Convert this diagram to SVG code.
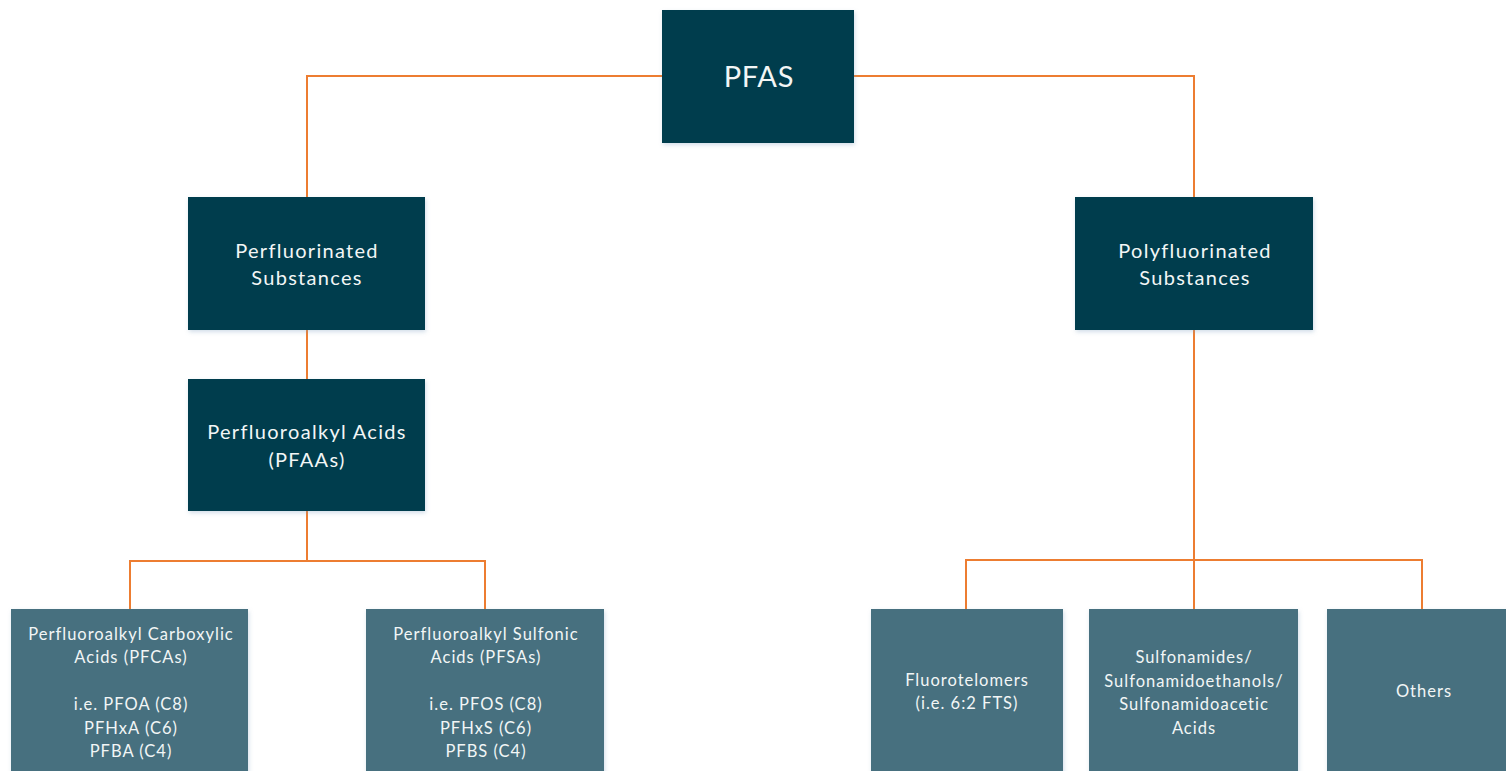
<svg xmlns="http://www.w3.org/2000/svg" width="1506" height="771" viewBox="0 0 1506 771">
<defs>
<filter id="sh" x="-5%" y="-5%" width="115%" height="115%">
<feDropShadow dx="1" dy="2" stdDeviation="2" flood-color="#7fa0c0" flood-opacity="0.35"/>
</filter>
</defs>
<style>
.dark{fill:#033d4e;filter:url(#sh)}
.light{fill:#46707f;filter:url(#sh)}
.t{fill:#f2f6f6;font-family:Lato,"Open Sans",sans-serif;text-anchor:middle}
.big{font-size:29px;letter-spacing:0.8px}
.mid{font-size:20px;letter-spacing:1.3px}
.sm{font-size:16.5px;letter-spacing:1px}
.c{fill:none;stroke:#ed7d31;stroke-width:2}
</style>
<rect width="1506" height="771" fill="#ffffff"/>
<g id="connectors">
<path class="c" d="M662 76H307V197"/>
<path class="c" d="M854 76H1194V197"/>
<path class="c" d="M307 330V379"/>
<path class="c" d="M307 511V561M130 609V561H485V609"/>
<path class="c" d="M1194 330V609M966 609V560H1422V609"/>
</g>
<g id="pfas">
<rect class="dark" x="662" y="10" width="192" height="133"/>
<text class="t big" x="759" y="87">PFAS</text>
</g>
<g id="perfluorinated">
<rect class="dark" x="188" y="197" width="237" height="133"/>
<text class="t mid" x="307" y="258">Perfluorinated</text>
<text class="t mid" x="307" y="285">Substances</text>
</g>
<g id="pfaas">
<rect class="dark" x="188" y="379" width="237" height="132"/>
<text class="t mid" x="307" y="439">Perfluoroalkyl Acids</text>
<text class="t mid" x="307" y="467">(PFAAs)</text>
</g>
<g id="polyfluorinated">
<rect class="dark" x="1075" y="197" width="238" height="133"/>
<text class="t mid" x="1195" y="258">Polyfluorinated</text>
<text class="t mid" x="1195" y="285">Substances</text>
</g>
<g id="pfcas">
<rect class="light" x="11" y="609" width="237" height="170"/>
<text class="t sm" x="131" y="640">Perfluoroalkyl Carboxylic</text>
<text class="t sm" x="131" y="663">Acids (PFCAs)</text>
<text class="t sm" x="131" y="710">i.e. PFOA (C8)</text>
<text class="t sm" x="131" y="734">PFHxA (C6)</text>
<text class="t sm" x="131" y="757">PFBA (C4)</text>
</g>
<g id="pfsas">
<rect class="light" x="366" y="609" width="238" height="170"/>
<text class="t sm" x="486" y="640">Perfluoroalkyl Sulfonic</text>
<text class="t sm" x="486" y="663">Acids (PFSAs)</text>
<text class="t sm" x="486" y="710">i.e. PFOS (C8)</text>
<text class="t sm" x="486" y="734">PFHxS (C6)</text>
<text class="t sm" x="486" y="757">PFBS (C4)</text>
</g>
<g id="fluorotelomers">
<rect class="light" x="871" y="609" width="192" height="170"/>
<text class="t sm" x="967" y="686">Fluorotelomers</text>
<text class="t sm" x="967" y="709">(i.e. 6:2 FTS)</text>
</g>
<g id="sulfonamides">
<rect class="light" x="1089" y="609" width="209" height="170"/>
<text class="t sm" x="1194" y="663">Sulfonamides/</text>
<text class="t sm" x="1194" y="687">Sulfonamidoethanols/</text>
<text class="t sm" x="1194" y="710">Sulfonamidoacetic</text>
<text class="t sm" x="1194" y="734">Acids</text>
</g>
<g id="others">
<rect class="light" x="1327" y="609" width="190" height="170"/>
<text class="t sm" x="1424" y="697">Others</text>
</g>
</svg>
